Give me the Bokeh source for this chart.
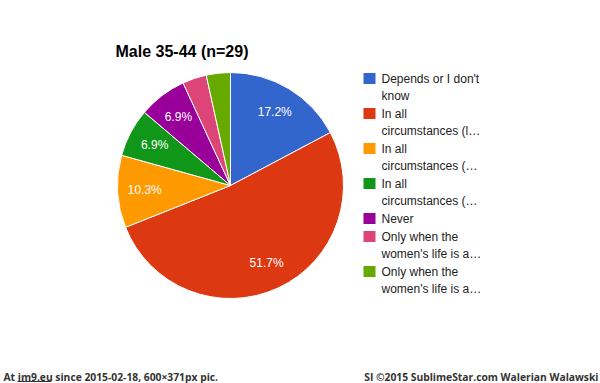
import math
from bokeh.plotting import figure
from bokeh.models import Range1d, ColumnDataSource
from bokeh.core.properties import value
from bokeh.embed import file_html
from bokeh.resources import INLINE

# ---- data ----
title = "Male 35-44 (n=29)"
categories = [
    "Depends or I don't know",
    "In all circumstances (l...",
    "In all circumstances (a...",
    "In all circumstances (b...",
    "Never",
    "Only when the women's life is a...",
    "Only when the women's life is a....",
]
legend_lines = [
    ["Depends or I don't", "know"],
    ["In all", "circumstances (l\u2026"],
    ["In all", "circumstances (\u2026"],
    ["In all", "circumstances (\u2026"],
    ["Never"],
    ["Only when the", "women's life is a\u2026"],
    ["Only when the", "women's life is a\u2026"],
]
counts = [5, 15, 3, 2, 2, 1, 1]
colors = ["#3366cc", "#dc3912", "#ff9900", "#109618", "#990099", "#dd4477", "#66aa00"]
footer_left = "At im9.eu since 2015-02-18, 600\u00d7371px pic."
footer_right = "SI \u00a92015 SublimeStar.com Walerian Walawski"

# ---- layout ----
W, H = 600, 383
def Y(py):
    return H - py

p = figure(width=W, height=H, output_backend="svg", toolbar_location=None,
           x_range=Range1d(0, W), y_range=Range1d(0, H), min_border=0)
p.axis.visible = False
p.xgrid.visible = False
p.ygrid.visible = False
p.outline_line_color = None
p.background_fill_color = "white"
p.border_fill_color = "white"

cx, cy, R = 230, 185, 113
total = sum(counts)
fr = [c / total for c in counts]
cum = [0]
for f in fr:
    cum.append(cum[-1] + f)
starts = [math.pi / 2 - 2 * math.pi * cum[i + 1] for i in range(len(fr))]
ends = [math.pi / 2 - 2 * math.pi * cum[i] for i in range(len(fr))]
src = ColumnDataSource(dict(start=starts, end=ends, color=colors))
p.wedge(x=cx, y=Y(cy), radius=R, radius_units="screen", start_angle="start", end_angle="end",
        fill_color="color", line_color="white", line_width=1, source=src)

# slice labels
lx, ly, lt = [], [], []
for i, f in enumerate(fr):
    if f * 100 < 5:
        continue
    mid = 2 * math.pi * (cum[i] + f / 2)
    rr = 0.76 * R
    lx.append(cx + rr * math.sin(mid))
    ly.append(Y(cy - rr * math.cos(mid)))
    lt.append(f"{f * 100:.1f}%")
p.text(x=lx, y=ly, text=lt, text_color="white", text_font=value("Liberation Sans"),
       text_font_size="12px", text_align="center", text_baseline="middle")

# title
p.text(x=[115], y=[Y(51)], text=[title], text_font=value("Liberation Sans"),
       text_font_style="bold", text_font_size="16px", text_color="#000000",
       text_baseline="alphabetic")

# legend
sq_x, sq_w, sq_h = 369, 12, 11
tx = 381
line_h = 17
gap = 1
y0 = 78
rx, ry, rc = [], [], []
tx_l, ty_l, tt_l = [], [], []
yy = y0
for i, lines in enumerate(legend_lines):
    rx.append(sq_x); ry.append(Y(yy)); rc.append(colors[i])
    for k, ln in enumerate(lines):
        tx_l.append(tx); ty_l.append(Y(yy + k * line_h)); tt_l.append(ln)
    yy += len(lines) * line_h + gap
p.rect(x=rx, y=ry, width=sq_w, height=sq_h, width_units="screen", height_units="screen",
       fill_color=rc, line_color=None)
p.text(x=tx_l, y=ty_l, text=tt_l, text_font=value("Liberation Sans"), text_font_size="12px",
       text_color="#222222", text_baseline="middle")

# footer
p.text(x=[3], y=[Y(376)], text=[footer_left], text_font=value("Open Sans"),
       text_font_style="bold", text_font_size="10.3px", text_color="#333333",
       text_baseline="alphabetic")
p.segment(x0=[17], y0=[Y(381)], x1=[51], y1=[Y(381)], line_color="#333333", line_width=1)
p.text(x=[598], y=[Y(376)], text=[footer_right], text_font=value("Open Sans"),
       text_font_style="bold", text_font_size="10.3px", text_color="#333333",
       text_align="right", text_baseline="alphabetic")

open("out.html", "w").write(file_html(p, INLINE))
